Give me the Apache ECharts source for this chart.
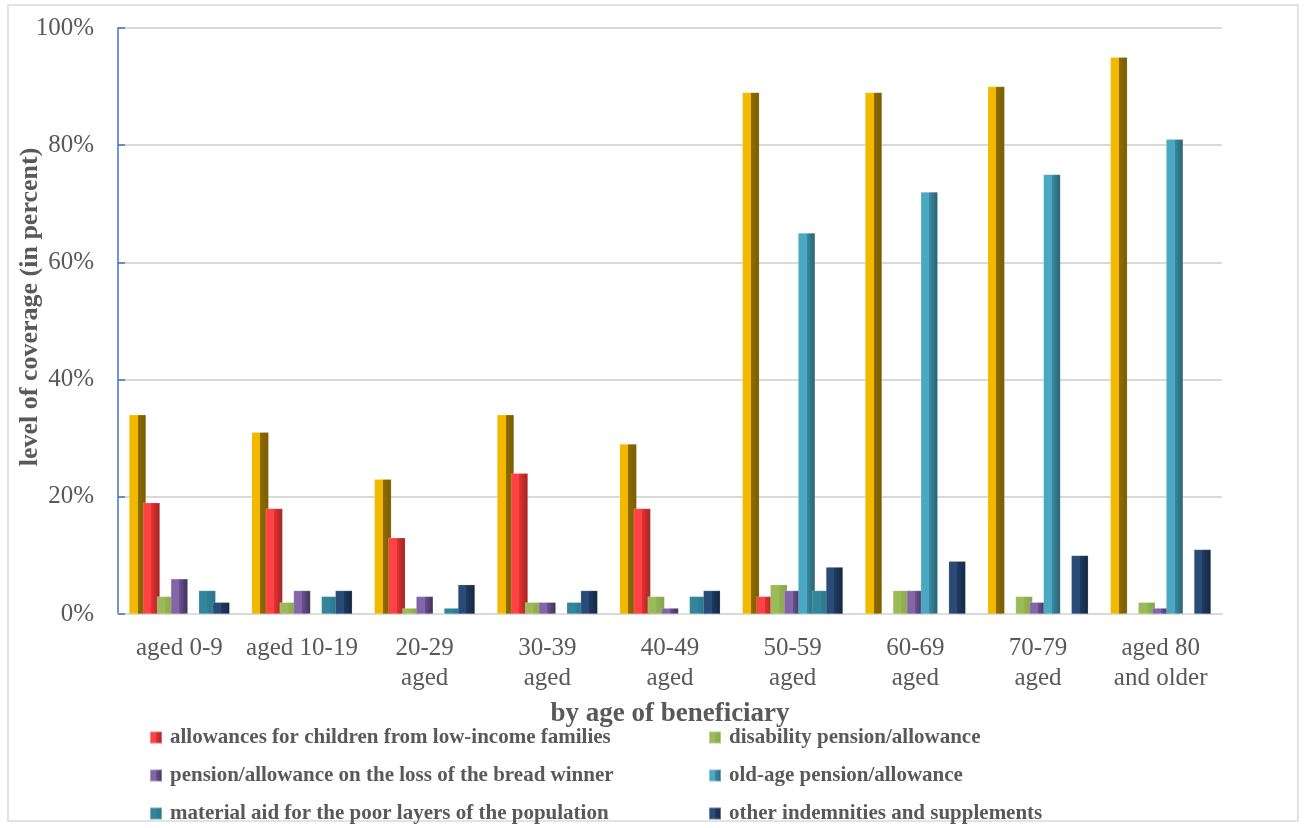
<!DOCTYPE html>
<html>
<head>
<meta charset="utf-8">
<script src="https://cdn.jsdelivr.net/npm/echarts@6/dist/echarts.min.js"></script>
<style>
  html, body { margin: 0; padding: 0; background: #ffffff; }
  #chart { width: 1305px; height: 828px; }
</style>
</head>
<body>
<div id="chart"></div>
<script>
// Age groups of beneficiaries
const categories = ['aged 0-9', 'aged 10-19', '20-29\naged', '30-39\naged', '40-49\naged',
  '50-59\naged', '60-69\naged', '70-79\naged', 'aged 80\nand older'];

// Coverage, percent of each age group
const totalCoverage      = [34, 31, 23, 34, 29, 89, 89, 90, 95];
const childAllowances    = [19, 18, 13, 24, 18, 3, 0, 0, 0];
const disability         = [3, 2, 1, 2, 3, 5, 4, 3, 2];
const breadWinnerLoss    = [6, 4, 3, 2, 1, 4, 4, 2, 1];
const oldAge             = [0, 0, 0, 0, 0, 65, 72, 75, 81];
const materialAid        = [4, 3, 1, 2, 3, 4, 0, 0, 0];
const otherIndemnities   = [2, 4, 5, 4, 4, 8, 9, 10, 11];

const yTicks = [0, 20, 40, 60, 80, 100];

const serif = '"Liberation Serif", "DejaVu Serif", serif';
const textGray = '#595959';

// horizontal shading that gives each column a bevelled look
function bevel(light, mid, dark) {
  return new echarts.graphic.LinearGradient(0, 0, 1, 0, [
    { offset: 0, color: light },
    { offset: 0.5, color: light },
    { offset: 0.5, color: mid },
    { offset: 1, color: dark }
  ]);
}

const seriesDefs = [
  { name: 'total', data: totalCoverage, color: bevel('#F2B800', '#8E6C00', '#7A5C00'), legend: '#F2B800' },
  { name: 'allowances for children from low-income families', data: childAllowances,
    color: bevel('#FF4242', '#E23232', '#A32424'), legend: '#E83A3A' },
  { name: 'disability pension/allowance', data: disability,
    color: bevel('#9BBB59', '#93B352', '#86A54B'), legend: '#9BBB59' },
  { name: 'pension/allowance on the loss of the bread winner', data: breadWinnerLoss,
    color: bevel('#8466A8', '#6A5290', '#3F3157'), legend: '#6A5290' },
  { name: 'old-age pension/allowance', data: oldAge,
    color: bevel('#4AA8C2', '#3A8BA2', '#2B5F70'), legend: '#4AA8C2' },
  { name: 'material aid for the poor layers of the population', data: materialAid,
    color: bevel('#31869C', '#2F8096', '#2A7588'), legend: '#31869C' },
  { name: 'other indemnities and supplements', data: otherIndemnities,
    color: bevel('#2A4A78', '#1F3A60', '#142843'), legend: '#1F3A60' }
];

const series = seriesDefs.map(d => ({
  name: d.name,
  type: 'bar',
  data: d.data,
  barWidth: 17,
  barGap: '-18%',
  barCategoryGap: '18%',
  itemStyle: { color: d.color, borderColor: 'rgba(255,255,255,0.35)', borderWidth: 0.5 },
  emphasis: { disabled: true }
}));

const legendText = {
  fontFamily: serif, fontWeight: 'bold', fontSize: 21, color: textGray,
  padding: [0, 0, 0, 3]
};

// two columns, three rows of legend entries
const legendCols = [149, 708];
const legendRows = [727, 765, 803];
const legends = seriesDefs.slice(1).map((d, i) => ({
  data: [d.name],
  left: legendCols[i % 2],
  top: legendRows[Math.floor(i / 2)],
  padding: 0,
  itemWidth: 12, itemHeight: 12, itemGap: 0, icon: 'rect',
  textStyle: legendText,
  selectedMode: false
}));

const chart = echarts.init(document.getElementById('chart'));
chart.setOption({
  animation: false,
  backgroundColor: '#ffffff',
  color: seriesDefs.map(d => d.legend),
  graphic: [
    {
      type: 'rect',
      shape: { x: 8, y: 5, width: 1290, height: 816 },
      style: { fill: 'none', stroke: '#d9d9d9', lineWidth: 1.5 },
      silent: true
    },
    {
      type: 'text',
      x: 30, y: 307,
      rotation: Math.PI / 2,
      style: {
        text: 'level of coverage (in percent)',
        font: 'bold 26px ' + serif,
        fill: textGray,
        align: 'center',
        verticalAlign: 'middle'
      },
      silent: true
    }
  ],
  grid: { left: 118, right: 83, top: 28, bottom: 214 },
  legend: legends,
  xAxis: {
    type: 'category',
    data: categories,
    name: 'by age of beneficiary',
    nameLocation: 'middle',
    nameGap: 87,
    nameTextStyle: { fontFamily: serif, fontWeight: 'bold', fontSize: 27, color: textGray },
    axisLine: { lineStyle: { color: '#d9d9d9', width: 2 } },
    axisTick: { show: false },
    axisLabel: {
      fontFamily: serif, fontSize: 25, color: textGray, lineHeight: 30, margin: 19,
      interval: 0
    }
  },
  yAxis: {
    type: 'value',
    min: yTicks[0],
    max: yTicks[yTicks.length - 1],
    interval: 20,
    axisLine: { show: true, lineStyle: { color: '#4472C4', width: 1.5 } },
    axisTick: { show: true, inside: true, length: 7, lineStyle: { color: '#4472C4', width: 1.5 } },
    axisLabel: {
      fontFamily: serif, fontSize: 25, color: textGray, margin: 24,
      formatter: '{value}%'
    },
    splitLine: { lineStyle: { color: '#d9d9d9', width: 2 } }
  },
  series: series
});
</script>
</body>
</html>
